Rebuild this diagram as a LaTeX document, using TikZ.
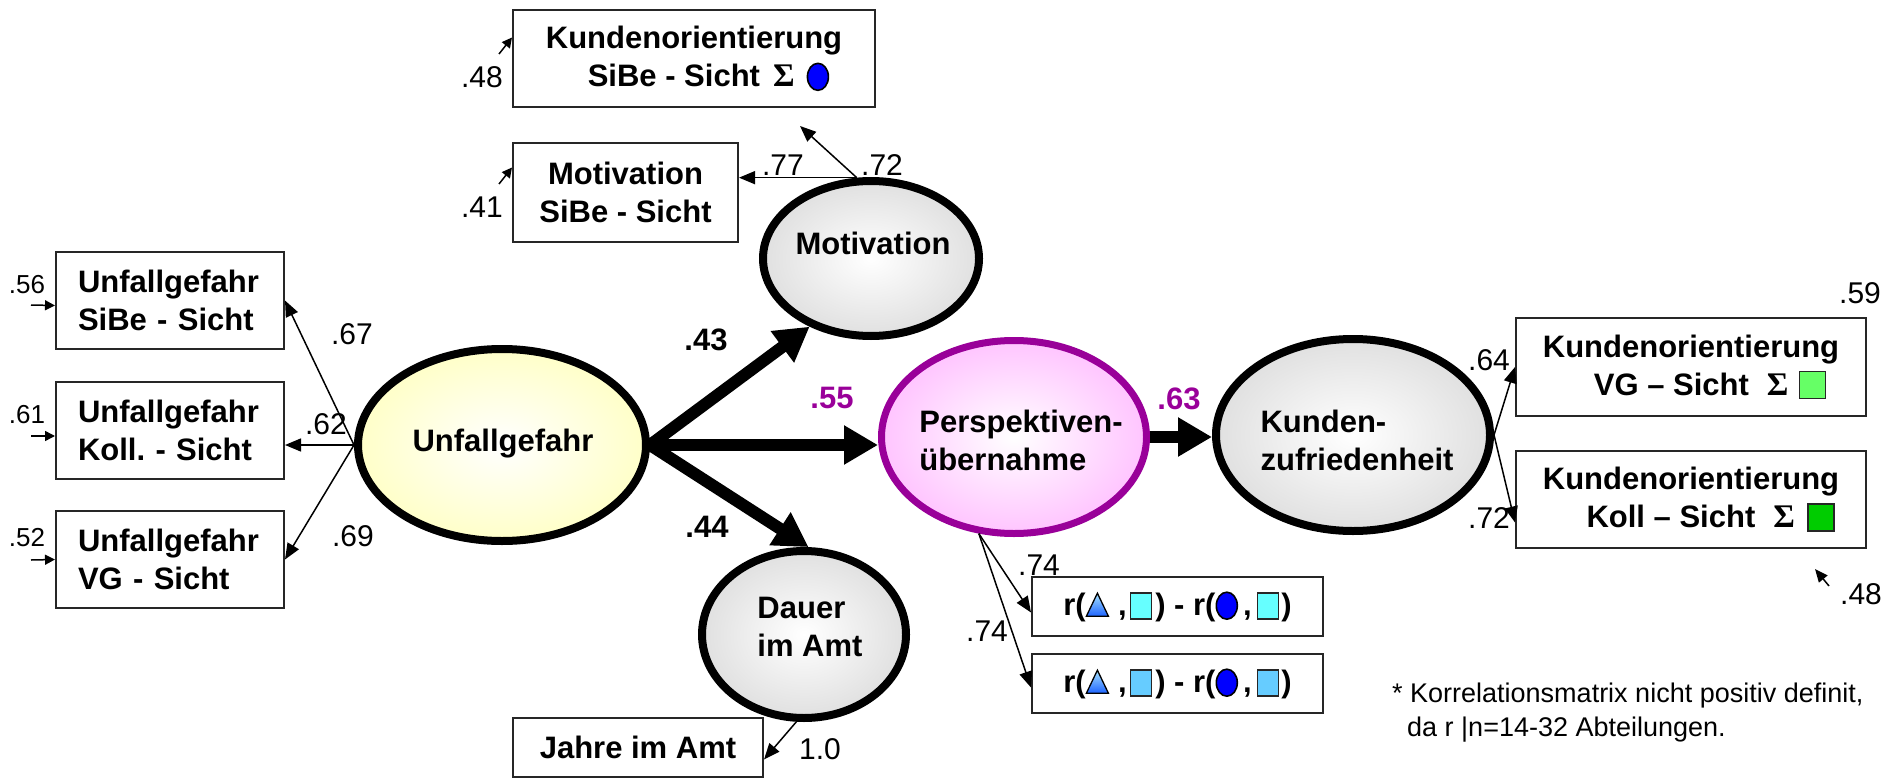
\documentclass[tikz,border=0pt]{standalone}
\usepackage{fontspec}
\setmainfont{Liberation Sans}
\newfontfamily\sigmafont{Liberation Serif}
\usetikzlibrary{arrows.meta,shapes.geometric,calc}
\definecolor{purp}{HTML}{990099}
\definecolor{pinkfill}{HTML}{FFC4FF}
\definecolor{yelfill}{HTML}{FFFFC8}
\definecolor{grayfill}{HTML}{E0E0E0}
\definecolor{cyansq}{HTML}{66FFFF}
\definecolor{bluesq}{HTML}{66CCFF}
\definecolor{lgreensq}{HTML}{66FF66}
\definecolor{greensq}{HTML}{00CC00}
\definecolor{dotblue}{HTML}{0000FF}
\definecolor{tritop}{HTML}{A8E4FF}
\definecolor{tribot}{HTML}{1E64FF}
\newcommand{\boxfont}{\fontsize{31}{38}\selectfont\bfseries}
\newcommand{\labfont}{\fontsize{30}{32}\selectfont}
\newcommand{\slabfont}{\fontsize{26}{30}\selectfont}
\newcommand{\blabfont}{\fontsize{31}{32}\selectfont\bfseries}
\newcommand{\notefont}{\fontsize{27}{34}\selectfont}
\newcommand{\symsq}[1]{\tikz[baseline=0pt,x=1pt,y=1pt]{\draw[line width=1.6pt,draw=black!85,fill=#1] (0,-4) rectangle (21,22);}}
\newcommand{\symbigsq}[1]{\tikz[baseline=0pt,x=1pt,y=1pt]{\draw[line width=1.6pt,draw=black!85,fill=#1] (0,-3) rectangle (26,24);}}
\newcommand{\symdot}{\tikz[baseline=0pt,x=1pt,y=1pt]{\draw[line width=1.6pt,fill=dotblue] (10.5,9.5) ellipse [x radius=10.5, y radius=13.5];}}
\newcommand{\symtri}{\tikz[baseline=0pt,x=1pt,y=1pt]{\draw[line width=1.3pt,top color=tritop,bottom color=tribot] (0,-1) -- (11,22) -- (22,-1) -- cycle;}}
\newcommand{\sig}{{\sigmafont\bfseries\fontsize{33}{38}\selectfont Σ}}
\frenchspacing
\begin{document}
\begin{tikzpicture}[x=1pt,y=-1pt,
  box/.style={draw=black!85, line width=2pt, fill=white, inner sep=0pt, outer sep=1pt, font=\boxfont, align=center},
  lbox/.style={box, text width=184pt, align=left},
  ell/.style={ellipse, draw=black, line width=8pt, inner sep=0pt, outer sep=4pt, inner color=white},
  etext/.style={font=\boxfont, align=left, inner sep=0pt},
  lab/.style={font=\labfont, inner sep=0pt},
  slab/.style={font=\slabfont, inner sep=0pt},
  blab/.style={font=\blabfont, inner sep=0pt},
  thickarr/.style={line width=12pt, -{Triangle[length=34pt,width=37pt]}},
  thinarr/.style={line width=1.5pt, -{Triangle[length=16pt,width=13pt]}},
  errarr/.style={line width=1.5pt, -{Triangle[length=10pt,width=10pt]}}]
\useasboundingbox (0,0) rectangle (1886,778);

% ---- ellipses
\node[ell, outer color=yelfill, minimum width=288pt, minimum height=192pt] (U) at (502,445) {};
\node[ell, outer color=grayfill, minimum width=216pt, minimum height=155pt] (M) at (871,258.5) {};
\node[ell, outer color=grayfill, minimum width=204pt, minimum height=167pt] (D) at (804,634.5) {};
\node[ell, draw=purp, line width=7pt, outer sep=3.5pt, outer color=pinkfill, minimum width=265pt, minimum height=193pt] (P) at (1014,437) {};
\node[ell, outer color=grayfill, minimum width=274pt, minimum height=192pt] (K) at (1353,435) {};

\node[etext] (Ut) at (503,444) {Unfallgefahr};
\node[etext] (Mt) at (873,243) {Motivation};
\node[etext] (Dt) at (810,627) {Dauer\\im Amt};
\node[etext] (Pt) at (1021,440) {Perspektiven-\\übernahme};
\node[etext] (Kt) at (1357,440) {Kunden-\\zufriedenheit};

% ---- boxes
\node[box, minimum width=362pt, minimum height=97pt] (KS) at (694,58.5)
  {Kundenorientierung\\\hspace*{29pt}SiBe - Sicht\hspace{13pt}\sig\hspace{12pt}\symdot};
\node[box, minimum width=225pt, minimum height=99pt] (MB) at (625.5,192.5) {Motivation\\SiBe - Sicht};
\node[lbox, minimum width=228pt, minimum height=97pt] (L1) at (170,300.5) {Unfallgefahr\\SiBe - Sicht};
\node[lbox, minimum width=228pt, minimum height=97pt] (L2) at (170,430.5) {Unfallgefahr\\Koll. - Sicht};
\node[lbox, minimum width=228pt, minimum height=97pt] (L3) at (170,559.5) {Unfallgefahr\\VG - Sicht};
\node[box, minimum width=350pt, minimum height=98pt] (R1) at (1691,367)
  {Kundenorientierung\\\hspace*{38pt}VG – Sicht\hspace{18pt}\sig\hspace{10pt}\symbigsq{lgreensq}};
\node[box, minimum width=350pt, minimum height=97pt] (R2) at (1691,499.5)
  {Kundenorientierung\\\hspace*{39pt}Koll – Sicht\hspace{18pt}\sig\hspace{12pt}\symbigsq{greensq}};
\node[box, minimum width=291pt, minimum height=59pt] (RB1) at (1177.5,606.5)
  {r(\symtri\hspace{9pt},\hspace{3pt}\symsq{cyansq}\hspace{3pt}) - r(\symdot\hspace{5pt},\hspace{5pt}\symsq{cyansq}\hspace{2pt})};
\node[box, minimum width=291pt, minimum height=59pt] (RB2) at (1177.5,683.5)
  {r(\symtri\hspace{9pt},\hspace{3pt}\symsq{bluesq}\hspace{3pt}) - r(\symdot\hspace{5pt},\hspace{5pt}\symsq{bluesq}\hspace{2pt})};
\node[box, minimum width=250pt, minimum height=59pt] (J) at (638,747.5) {Jahre im Amt};

% ---- structural paths
\draw[thickarr] (U.east) -- (M.228);
\draw[thickarr] (U.east) -- (U.east -| P.west);
\draw[thickarr] (U.east) -- (D.87);
\draw[thickarr] (P.east) -- (P.east -| K.west);

% ---- loadings
\draw[thinarr] (U.west) -- (L1.east);
\draw[thinarr] (U.west) -- (U.west -| L2.east);
\draw[thinarr] (U.west) -- (L3.east);
\coordinate (KStip) at (800,126);
\draw[thinarr] (M.100) -- (M.100 -| MB.east);
\draw[thinarr] (M.100) -- (KStip);
\draw[thinarr] (D.265) -- ($(J.east)+(0,12)$);
\draw[thinarr] (P.250) -- ($(RB1.west)+(0,6)$);
\draw[thinarr] (P.250) -- ($(RB2.west)+(0,4)$);
\draw[thinarr] (K.east) -- (R1.west);
\draw[thinarr] (K.east) -- ($(R2.west)+(0,23)$);

% ---- residual arrows
\coordinate (eKS) at (499,54);
\coordinate (eMB) at (499,184);
\coordinate (eL1) at (31,305);
\coordinate (eL2) at (31,436);
\coordinate (eL3) at (31,560);
\coordinate (eKa) at (1829,586);
\coordinate (eKb) at (1815,569);
\draw[errarr] (eKS) -- ($(KS.west)+(0,-21)$);
\draw[errarr] (eMB) -- ($(MB.west)+(0,-25)$);
\draw[errarr] (eL1) -- ($(L1.west)+(0,5)$);
\draw[errarr] (eL2) -- ($(L2.west)+(0,5.5)$);
\draw[errarr] (eL3) -- (L3.west);
\draw[line width=1.5pt, -{Triangle[length=13pt,width=11pt]}] (eKa) -- (eKb);

% ---- labels
\node[lab] (l48) at (482,77) {.48};
\node[lab] (l41) at (482,207) {.41};
\node[lab] (l77) at (783,165) {.77};
\node[lab] (l72a) at (882,165) {.72};
\node[slab] (l56) at (27,285) {.56};
\node[slab] (l61) at (27,415) {.61};
\node[slab] (l52) at (27,538) {.52};
\node[lab] (l67) at (352,334) {.67};
\node[lab] (l62) at (326,424) {.62};
\node[lab] (l69) at (353,536) {.69};
\node[blab] (l43) at (706,340) {.43};
\node[blab, text=purp] (l55) at (832,398) {.55};
\node[blab] (l44) at (707,527) {.44};
\node[blab, text=purp] (l63) at (1179,399) {.63};
\node[lab] (l10) at (820,749) {1.0};
\node[lab] (l74a) at (1039,565) {.74};
\node[lab] (l74b) at (987,631) {.74};
\node[lab] (l64) at (1489,360) {.64};
\node[lab] (l72b) at (1489,518) {.72};
\node[lab] (l59) at (1860,293) {.59};
\node[lab] (l48b) at (1861,594) {.48};

\node[font=\notefont, align=left, inner sep=0pt, anchor=west] (note) at (1392,713)
  {* Korrelationsmatrix nicht positiv definit,\\\hphantom{*}\,da r |n=14-32 Abteilungen.};
\end{tikzpicture}
\end{document}
